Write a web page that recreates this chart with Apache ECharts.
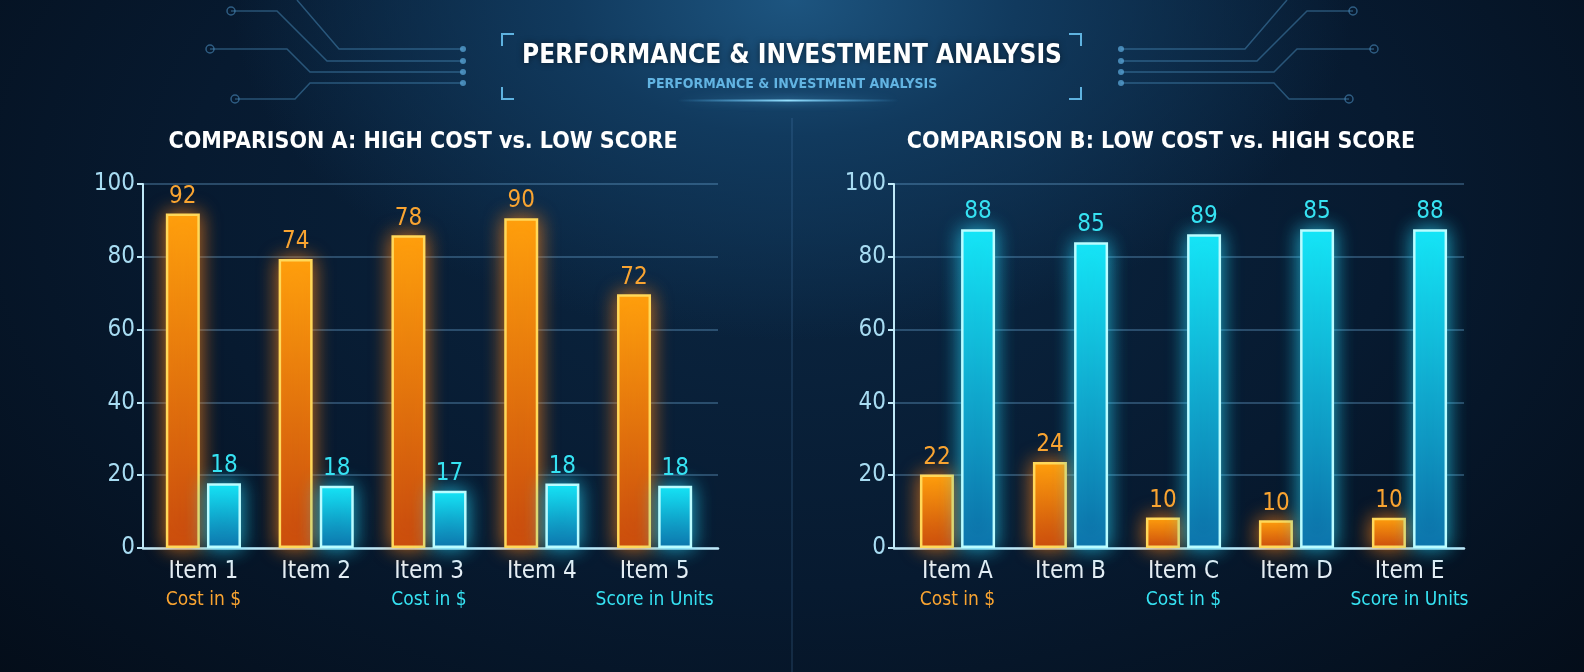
<!DOCTYPE html>
<html>
<head>
<meta charset="utf-8">
<title>Performance & Investment Analysis</title>
<script src="https://cdn.jsdelivr.net/npm/echarts@6/dist/echarts.min.js"></script>
<style>
    html, body {
        margin: 0;
        padding: 0;
        width: 1584px;
        height: 672px;
        overflow: hidden;
        background: radial-gradient(ellipse 560px 340px at 50% 0%, #1d5580 0%, #113a5e 40%, rgba(10, 32, 56, 0) 100%),
                    radial-gradient(ellipse 1100px 700px at 50% 30%, #0b2743 0%, #071a30 55%, #040d19 100%);
    }
    #chart {
        width: 1584px;
        height: 672px;
    }
</style>
</head>
<body>
<div id="chart"></div>
<script>
// comparison A
const itemsA = ['Item 1', 'Item 2', 'Item 3', 'Item 4', 'Item 5'];
const costA = [91.9, 79.4, 85.9, 90.6, 69.7];
const scoreA = [17.8, 17.1, 15.7, 17.7, 17.1];
const costTextA = ['92', '74', '78', '90', '72'];
const scoreTextA = ['18', '18', '17', '18', '18'];
const notesA = ['Cost in $', '', 'Cost in $', '', 'Score in Units'];
const noteToneA = ['cost', '', 'score', '', 'score'];

// comparison B
const itemsB = ['Item A', 'Item B', 'Item C', 'Item D', 'Item E'];
const costB = [20.2, 23.6, 8.4, 7.6, 8.3];
const scoreB = [87.6, 84.0, 86.2, 87.6, 87.6];
const costTextB = ['22', '24', '10', '10', '10'];
const scoreTextB = ['88', '85', '89', '85', '88'];
const notesB = ['Cost in $', '', 'Cost in $', '', 'Score in Units'];
const noteToneB = ['cost', '', 'score', '', 'score'];

const yTicks = [0, 20, 40, 60, 80, 100];

const FONT = "'DejaVu Sans Condensed', 'Liberation Sans Narrow', 'Roboto', sans-serif";
const ORANGE = '#f9a431';
const CYAN = '#36e2f2';

const chart = echarts.init(document.getElementById('chart'), null, { renderer: 'canvas' });

const orangeStyle = {
    color: new echarts.graphic.LinearGradient(0, 0, 0, 1, [
        { offset: 0, color: '#ffa20c' },
        { offset: 1, color: '#c5470d' }
    ]),
    borderColor: '#ffd85a',
    borderWidth: 2.5,
    shadowBlur: 20,
    shadowColor: 'rgba(255, 130, 20, 0.8)'
};

const cyanStyle = {
    color: new echarts.graphic.LinearGradient(0, 0, 0, 1, [
        { offset: 0, color: '#14e6f6' },
        { offset: 1, color: '#0b6aa3' }
    ]),
    borderColor: '#bafcff',
    borderWidth: 2.5,
    shadowBlur: 20,
    shadowColor: 'rgba(40, 220, 255, 0.75)'
};

const makeLabel = (texts, color) => ({
    show: true,
    position: 'top',
    distance: 5,
    color: color,
    fontFamily: FONT,
    fontSize: 24,
    formatter: (p) => texts[p.dataIndex]
});

const makeCatAxis = (gridIndex, items, notes, tones) => ({
    type: 'category',
    gridIndex: gridIndex,
    data: items,
    axisLine: { show: false },
    axisTick: { show: false },
    axisLabel: {
        margin: 10,
        interval: 0,
        fontFamily: FONT,
        formatter: (value, idx) => {
            if (notes[idx] === '') {
                return '{n|' + value + '}';
            }
            return '{n|' + value + '}\n{' + tones[idx] + '|' + notes[idx] + '}';
        },
        rich: {
            n: { color: '#e4eef5', fontSize: 24, lineHeight: 28, fontFamily: FONT },
            cost: { color: ORANGE, fontSize: 19, lineHeight: 28, fontFamily: FONT },
            score: { color: CYAN, fontSize: 19, lineHeight: 28, fontFamily: FONT }
        }
    }
});

const frameXAxis = (gridIndex) => ({
    type: 'value',
    gridIndex: gridIndex,
    min: 0,
    max: 1,
    axisLine: { show: true, lineStyle: { color: '#bfe8f7', width: 2.5 } },
    axisTick: { show: false },
    axisLabel: { show: false },
    splitLine: { show: false }
});

const frameYAxis = (gridIndex) => ({
    type: 'value',
    gridIndex: gridIndex,
    min: yTicks[0],
    max: yTicks[yTicks.length - 1],
    interval: 20,
    axisLine: { show: true, lineStyle: { color: '#bfe8f7', width: 2 } },
    axisTick: { show: true, length: 6, lineStyle: { color: '#bfe8f7', width: 2 } },
    axisLabel: { color: '#a8dcf2', fontSize: 24, fontFamily: FONT, margin: 8 },
    splitLine: { show: true, lineStyle: { color: 'rgba(110, 170, 215, 0.45)', width: 1.5 } }
});

const barYAxis = (gridIndex) => ({
    type: 'value',
    gridIndex: gridIndex,
    min: 0,
    max: 100,
    show: false
});

// circuit traces in the top corners
const tracesLeft = [
    [[463, 49], [339, 49], [297, 0]],
    [[463, 61], [327, 61], [277, 11], [231, 11]],
    [[463, 72], [310, 72], [287, 49], [210, 49]],
    [[463, 83], [310, 83], [295, 99], [235, 99]]
];
const traceGraphics = [];
tracesLeft.forEach((pts, i) => {
    [false, true].forEach((mirror) => {
        const p = pts.map(([x, y]) => [mirror ? 1584 - x : x, y]);
        traceGraphics.push({
            type: 'polyline',
            shape: { points: p },
            style: { stroke: 'rgba(80, 150, 200, 0.45)', lineWidth: 1.5, fill: null },
            silent: true
        });
        traceGraphics.push({
            type: 'circle',
            shape: { cx: p[0][0], cy: p[0][1], r: 3 },
            style: { fill: 'rgba(90, 165, 215, 0.75)' },
            silent: true
        });
        if (i > 0) {
            const last = p[p.length - 1];
            traceGraphics.push({
                type: 'circle',
                shape: { cx: last[0], cy: last[1], r: 4 },
                style: { stroke: 'rgba(80, 150, 200, 0.55)', lineWidth: 1.5, fill: null },
                silent: true
            });
        }
    });
});

const bracket = (x, dir) => ({
    type: 'polyline',
    shape: { points: [[x + dir * 12, 34], [x, 34], [x, 46]] },
    style: { stroke: '#5fb3e0', lineWidth: 2, fill: null },
    silent: true
});
const bracketLow = (x, dir) => ({
    type: 'polyline',
    shape: { points: [[x, 87], [x, 99], [x + dir * 12, 99]] },
    style: { stroke: '#5fb3e0', lineWidth: 2, fill: null },
    silent: true
});

const option = {
    backgroundColor: 'transparent',
    animation: false,
    title: [
        {
            text: 'PERFORMANCE & INVESTMENT ANALYSIS',
            left: 792, textAlign: 'center', top: 43, padding: 0,
            textStyle: { color: '#ffffff', fontSize: 26, fontWeight: 'bold', fontFamily: FONT,
                textShadowColor: 'rgba(0,0,0,0.5)', textShadowBlur: 6 }
        },
        {
            text: 'PERFORMANCE & INVESTMENT ANALYSIS',
            left: 792, textAlign: 'center', top: 77, padding: 0,
            textStyle: { color: '#62b4e2', fontSize: 14, fontWeight: 'bold', fontFamily: FONT }
        },
        {
            text: 'COMPARISON A: HIGH COST vs. LOW SCORE',
            left: 423, textAlign: 'center', top: 131, padding: 0,
            textStyle: { color: '#ffffff', fontSize: 23, fontWeight: 'bold', fontFamily: FONT }
        },
        {
            text: 'COMPARISON B: LOW COST vs. HIGH SCORE',
            left: 1161, textAlign: 'center', top: 131, padding: 0,
            textStyle: { color: '#ffffff', fontSize: 23, fontWeight: 'bold', fontFamily: FONT }
        }
    ],
    graphic: [
        {
            type: 'line',
            shape: { x1: 792, y1: 118, x2: 792, y2: 672 },
            style: { stroke: 'rgba(90, 150, 200, 0.22)', lineWidth: 1.5 },
            silent: true
        },
        {
            type: 'rect',
            shape: { x: 677, y: 99.5, width: 222, height: 2 },
            style: {
                fill: new echarts.graphic.LinearGradient(0, 0, 1, 0, [
                    { offset: 0, color: 'rgba(80, 190, 255, 0)' },
                    { offset: 0.5, color: 'rgba(150, 225, 255, 1)' },
                    { offset: 1, color: 'rgba(80, 190, 255, 0)' }
                ]),
                shadowBlur: 8,
                shadowColor: 'rgba(100, 200, 255, 0.9)'
            },
            silent: true
        },
        bracket(502, 1), bracketLow(502, 1),
        bracket(1081, -1), bracketLow(1081, -1)
    ].concat(traceGraphics),
    grid: [
        { left: 143, top: 184, width: 575, height: 364 },
        { left: 147, top: 184, width: 564, height: 364 },
        { left: 894, top: 184, width: 570, height: 364 },
        { left: 901, top: 184, width: 565, height: 364 }
    ],
    xAxis: [
        frameXAxis(0),
        makeCatAxis(1, itemsA, notesA, noteToneA),
        frameXAxis(2),
        makeCatAxis(3, itemsB, notesB, noteToneB)
    ],
    yAxis: [
        frameYAxis(0),
        barYAxis(1),
        frameYAxis(2),
        barYAxis(3)
    ],
    series: [
        {
            name: 'Cost A', type: 'bar', xAxisIndex: 1, yAxisIndex: 1,
            data: costA, barWidth: 34, barGap: '21%',
            itemStyle: orangeStyle, label: makeLabel(costTextA, ORANGE)
        },
        {
            name: 'Score A', type: 'bar', xAxisIndex: 1, yAxisIndex: 1,
            data: scoreA, barWidth: 34, barGap: '21%',
            itemStyle: cyanStyle, label: makeLabel(scoreTextA, CYAN)
        },
        {
            name: 'Cost B', type: 'bar', xAxisIndex: 3, yAxisIndex: 3,
            data: costB, barWidth: 34, barGap: '21%',
            itemStyle: orangeStyle, label: makeLabel(costTextB, ORANGE)
        },
        {
            name: 'Score B', type: 'bar', xAxisIndex: 3, yAxisIndex: 3,
            data: scoreB, barWidth: 34, barGap: '21%',
            itemStyle: cyanStyle, label: makeLabel(scoreTextB, CYAN)
        }
    ]
};

chart.setOption(option);
window.onresize = () => {
    chart.resize();
};
</script>
</body>
</html>
